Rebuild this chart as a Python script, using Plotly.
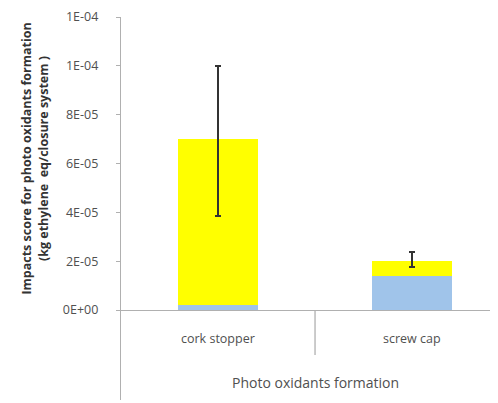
import plotly.graph_objects as go

categories = ["cork stopper", "screw cap"]
blue_values = [2.0e-6, 1.4e-5]
yellow_values = [6.8e-5, 0.61e-5]
err_plus = [3.0e-5, 0.37e-5]
err_minus = [3.15e-5, 0.24e-5]
tick_vals = [0, 2e-5, 4e-5, 6e-5, 8e-5, 1e-4, 1.2e-4]
tick_text = ["0E+00", "2E-05", "4E-05", "6E-05", "8E-05", "1E-04", "1E-04"]
x_title = "Photo oxidants formation"
y_title = "<b>Impacts score for photo oxidants formation<br>(kg ethylene  eq/closure system )</b>"

FONT = "Open Sans, Liberation Sans, sans-serif"
GRAY = "#b0b0b0"
TXT = "#505050"
YMIN = -3.686e-5
YMAX = 1.2e-4
# page body has an 8px margin: figure is drawn at (8, 8)
W, H = 490, 395
L, T, B = 113, 9, 3

fig = go.Figure()
fig.add_trace(go.Bar(x=categories, y=blue_values, marker=dict(color="#A0C4EA", line=dict(width=0)),
                     width=0.41, showlegend=False))
fig.add_trace(go.Bar(x=categories, y=yellow_values, marker=dict(color="#FFFF00", line=dict(width=0)),
                     width=0.41, showlegend=False,
                     error_y=dict(type="data", symmetric=False, array=err_plus, arrayminus=err_minus,
                                  color="#333333", thickness=2, width=3)))

fig.update_layout(
    barmode="stack",
    width=W, height=H,
    margin=dict(l=L, r=0, t=T, b=B, autoexpand=False),
    paper_bgcolor="white", plot_bgcolor="white",
    font=dict(family=FONT, size=12, color=TXT),
    xaxis=dict(range=[-0.5, 1.443], showticklabels=False, showgrid=False, zeroline=False,
               showline=False, ticks=""),
    yaxis=dict(range=[YMIN, YMAX], tickvals=tick_vals, ticktext=tick_text, showgrid=False,
               zeroline=True, zerolinecolor=GRAY, zerolinewidth=1.3,
               showline=True, linecolor=GRAY, linewidth=1.3,
               ticks="outside", ticklen=4, tickcolor=GRAY, tickwidth=1,
               ticklabelstandoff=15,
               tickfont=dict(family=FONT, size=12.5, color=TXT)),
)

# category divider
fig.add_shape(type="line", xref="x", yref="y", x0=0.5, x1=0.5, y0=0, y1=-1.84e-5,
              line=dict(color=GRAY, width=1.3))

for c in categories:
    fig.add_annotation(x=c, xref="x", y=-1.15e-5, yref="y", text=c, showarrow=False,
                       font=dict(family=FONT, size=12.5, color=TXT))

fig.add_annotation(x=0.5, xref="x", y=-2.95e-5, yref="y", text=x_title, showarrow=False,
                   font=dict(family=FONT, size=14, color=TXT))

fig.add_annotation(x=(27 - L) / (W - L), xref="paper", xanchor="center", y=6.2e-5, yref="y",
                   text=y_title, showarrow=False, textangle=-90,
                   font=dict(family=FONT, size=12.5, color="#333333"))

fig.write_html("out.html")
